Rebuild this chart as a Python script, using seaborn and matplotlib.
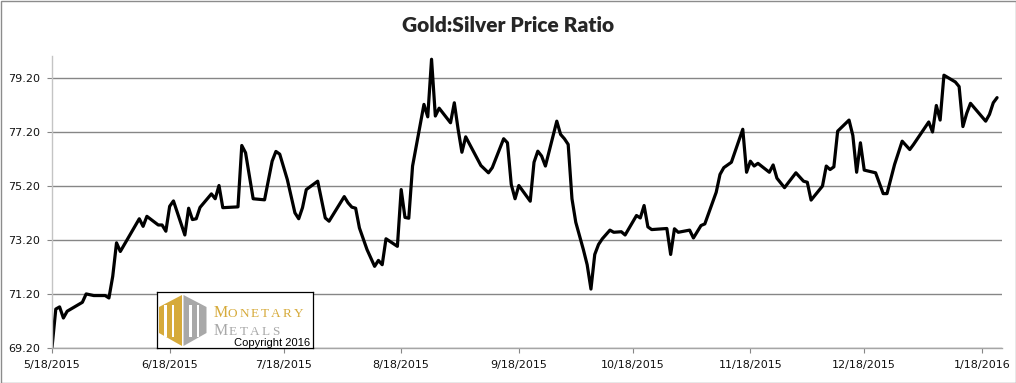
import pandas as pd
import numpy as np
import matplotlib
matplotlib.use("Agg")
import matplotlib.pyplot as plt
from matplotlib.patches import Polygon, Rectangle
import seaborn as sns

# data: days after 5/18/2015 and the ratio
start = pd.Timestamp("2015-05-18")
day_offsets = [0, 1, 2, 3, 4, 8, 9, 11, 14, 15, 16, 17, 18, 23, 24, 25, 28, 29, 30, 31,
               32, 35, 36, 37, 38, 39, 42, 43, 44, 45, 49, 50, 51, 53, 56, 58, 59, 60, 62, 64,
               65, 66, 67, 70, 72, 73, 77, 78, 79, 80, 81, 83, 85, 86, 87, 88, 91, 92, 93, 94,
               95, 98, 99, 100, 101, 102, 105, 106, 107, 108, 109, 113, 115, 116, 119, 120, 121, 122, 123, 126,
               127, 128, 129, 130, 133, 134, 135, 136, 137, 138, 140, 141, 142, 143, 144, 145, 147, 148, 150, 151,
               154, 155, 156, 157, 158, 162, 163, 164, 165, 168, 169, 171, 172, 175, 176, 177, 179, 182, 183, 184,
               185, 186, 189, 190, 191, 193, 196, 198, 199, 200, 203, 204, 205, 206, 207, 210, 211, 212, 213, 214,
               217, 219, 220, 222, 224, 226, 227, 231, 232, 233, 234, 235, 238, 239, 240, 241, 242, 246, 247, 248,
               249]
ratio = [69.22, 70.64, 70.72, 70.31, 70.56, 70.89, 71.20, 71.14, 71.14, 71.05, 71.85, 73.09, 72.77, 73.98, 73.70, 74.07, 73.75, 73.75, 73.52, 74.44,
         74.64, 73.38, 74.37, 73.95, 73.98, 74.40, 74.90, 74.72, 75.21, 74.39, 74.42, 76.69, 76.42, 74.72, 74.68, 76.11, 76.47, 76.37, 75.43, 74.20,
         73.98, 74.39, 75.06, 75.37, 74.01, 73.89, 74.80, 74.57, 74.41, 74.37, 73.64, 72.84, 72.22, 72.44, 72.28, 73.24, 72.96, 75.06, 74.03, 74.00,
         75.93, 78.21, 77.75, 79.88, 77.78, 78.07, 77.53, 78.27, 77.29, 76.44, 77.01, 75.95, 75.68, 75.87, 76.94, 76.79, 75.25, 74.72, 75.21, 74.63,
         76.07, 76.48, 76.30, 75.93, 77.59, 77.10, 76.94, 76.73, 74.72, 73.85, 72.84, 72.28, 71.38, 72.66, 73.03, 73.24, 73.56, 73.48, 73.50, 73.38,
         74.10, 74.01, 74.47, 73.68, 73.58, 73.62, 72.66, 73.61, 73.48, 73.56, 73.27, 73.73, 73.79, 74.96, 75.62, 75.87, 76.07, 77.29, 75.70, 76.11,
         75.93, 76.03, 75.70, 75.97, 75.48, 75.13, 75.68, 75.37, 75.33, 74.67, 75.19, 75.93, 75.80, 75.90, 77.22, 77.63, 77.06, 75.70, 76.79, 75.78,
         75.68, 74.91, 74.91, 75.99, 76.85, 76.54, 76.73, 77.56, 77.19, 78.17, 77.63, 79.29, 79.04, 78.87, 77.39, 77.88, 78.25, 77.59, 77.84, 78.27,
         78.46]

y_ticks = [69.2, 71.2, 73.2, 75.2, 77.2, 79.2]
tick_dates = pd.date_range("2015-05-18", "2016-01-18", freq=pd.DateOffset(months=1))
tick_labels = [f"{d.month}/{d.day}/{d.year}" for d in tick_dates]

df = pd.DataFrame({"date": start + pd.to_timedelta(day_offsets, unit="D"), "ratio": ratio})

sns.set_style("white")
plt.rcParams["font.family"] = ["DejaVu Sans"]

W, H = 1016, 383
fig = plt.figure(figsize=(W / 100, H / 100), dpi=100)
ax = fig.add_axes([52 / W, 1 - 348 / H, 950 / W, 292 / H])

sns.lineplot(data=df, x="date", y="ratio", color="black", linewidth=2.3, ax=ax)
ax.lines[0].set_solid_joinstyle("round")

ax.set_xlim(start, start + pd.Timedelta(days=250.3))
ax.set_ylim(69.2, 80.0)
ax.set_yticks(y_ticks)
ax.set_yticklabels([f"{v:.2f}" for v in y_ticks])
ax.set_xticks(tick_dates)
ax.set_xticklabels(tick_labels)
ax.set_xlabel("")
ax.set_ylabel("")

ax.grid(axis="y", color="#868686", linewidth=1.0)
ax.grid(axis="x", visible=False)
ax.set_axisbelow(True)
for s in ["top", "right"]:
    ax.spines[s].set_visible(False)
ax.spines["left"].set_color("#c4c4c4")
ax.spines["left"].set_linewidth(1.0)
ax.spines["bottom"].set_color("#a6a6a6")
ax.spines["bottom"].set_linewidth(1.0)
ax.tick_params(axis="both", left=True, bottom=True, length=3.6, width=0.8,
               color="#868686", labelsize=8, labelcolor="#111111", pad=5)

fig.text(0.5, 1 - 26 / H, "Gold:Silver Price Ratio", ha="center", va="center",
         fontsize=15, fontweight="heavy", family=["Lato", "DejaVu Sans"])

# logo box, drawn in its own pixel space
lax = fig.add_axes([157 / W, 1 - 348 / H, 156 / W, 56 / H], zorder=5)
lax.set_xlim(157, 313)
lax.set_ylim(348, 292)
lax.set_xticks([])
lax.set_yticks([])
lax.set_facecolor("white")
for s in lax.spines.values():
    s.set_visible(True)
    s.set_color("black")
    s.set_linewidth(0.9)

gold = "#D6AA3A"
grey = "#A8A8A8"
lax.add_patch(Polygon([(182, 295), (159, 307), (159, 333), (182, 346)], closed=True,
                      facecolor=gold, edgecolor="none"))
lax.add_patch(Polygon([(183.5, 295), (206.5, 307), (206.5, 333), (183.5, 346)], closed=True,
                      facecolor=grey, edgecolor="none"))
for x0 in [164, 171.5, 189, 196.5]:
    lax.add_patch(Rectangle((x0, 305), 2.6, 32, facecolor="white", edgecolor="none"))

mon_x = [220.5, 232.5, 244, 254.5, 265, 275.5, 287, 299]
for i, (ch, x) in enumerate(zip("MONETARY", mon_x)):
    lax.text(x, 317, ch, ha="center", va="baseline", color=gold,
             fontsize=11.5 if i == 0 else 9.5, family=["Liberation Serif", "DejaVu Serif"])
met_x = [221, 233, 243.5, 254.5, 265.5, 276]
for i, (ch, x) in enumerate(zip("METALS", met_x)):
    lax.text(x, 335, ch, ha="center", va="baseline", color=grey,
             fontsize=11.5 if i == 0 else 9.5, family=["Liberation Serif", "DejaVu Serif"])
lax.text(272, 346, "Copyright 2016", ha="center", va="baseline", color="black",
         fontsize=8, family=["Liberation Sans", "DejaVu Sans"])

fig.add_artist(Rectangle((0.5 / W, 0.5 / H), 1 - 1 / W, 1 - 1 / H, transform=fig.transFigure,
                         fill=False, edgecolor="#8c8c8c", linewidth=1.0))

fig.savefig("out.png", dpi=100)
